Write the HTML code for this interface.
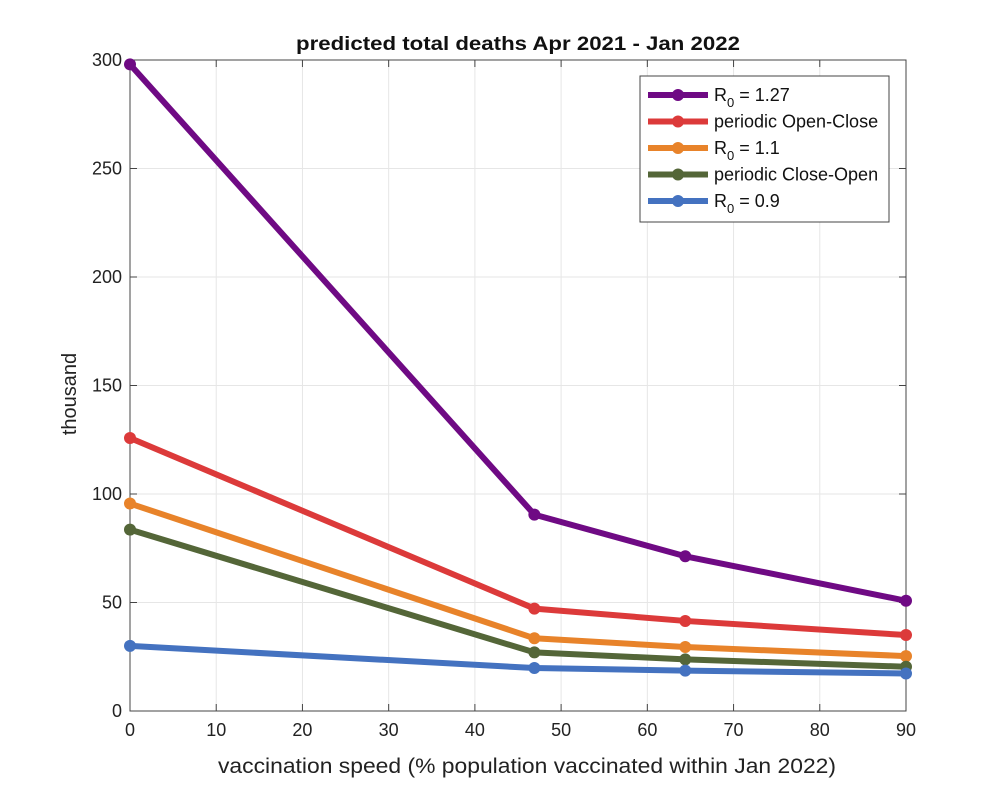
<!DOCTYPE html>
<html><head><meta charset="utf-8"><style>
body{margin:0;background:#fff;font-family:"Liberation Sans",sans-serif}
</style></head><body>
<svg id="chart" width="1000" height="800" xmlns="http://www.w3.org/2000/svg" font-family="Liberation Sans, sans-serif"></svg>
<script>
const xValues=[0,46.9,64.4,90];
const seriesNames=["R0 = 1.27","periodic Open-Close","R0 = 1.1","periodic Close-Open","R0 = 0.9"];
const sPurple=[298,90.5,71.3,50.8];
const sRed=[125.8,47.2,41.5,35];
const sOrange=[95.6,33.5,29.5,25.3];
const sGreen=[83.6,27,23.8,20.4];
const sBlue=[30,19.8,18.6,17.3];
const xTicks=[0,10,20,30,40,50,60,70,80,90];
const yTicks=[0,50,100,150,200,250,300];
const colors=["#6f0a84","#dc3a3a","#e8832a","#546638","#4472c0"];
const series=[sPurple,sRed,sOrange,sGreen,sBlue];
const L=130,R=906,T=60,B=711;
const X=v=>L+(v-0)/(90-0)*(R-L);
const Y=v=>B-(v-0)/(300-0)*(B-T);
const svg=document.getElementById('chart');
const NS="http://www.w3.org/2000/svg";
function el(t,a,p){const e=document.createElementNS(NS,t);for(const k in a)e.setAttribute(k,a[k]);(p||svg).appendChild(e);return e;}
const bg=el('rect',{x:L,y:T,width:R-L,height:B-T,fill:'#fff'});


xTicks.forEach(t=>{
 const g=el('line',{x1:X(t),x2:X(t),y1:T,y2:B,stroke:'#e6e6e6','stroke-width':1});
 
 
 el('line',{x1:X(t),x2:X(t),y1:B,y2:B-7,stroke:'#444'});
 el('line',{x1:X(t),x2:X(t),y1:T,y2:T+7,stroke:'#444'});
 const tx=el('text',{x:X(t),y:B+25,'text-anchor':'middle','font-size':18,fill:'#222'});tx.textContent=t;
 
 
});
yTicks.forEach(t=>{
 const g=el('line',{x1:L,x2:R,y1:Y(t),y2:Y(t),stroke:'#e6e6e6','stroke-width':1});
 
 
 el('line',{x1:L,x2:L+7,y1:Y(t),y2:Y(t),stroke:'#444'});
 el('line',{x1:R,x2:R-7,y1:Y(t),y2:Y(t),stroke:'#444'});
 const tx=el('text',{x:L-8,y:Y(t)+6,'text-anchor':'end','font-size':18,fill:'#222'});tx.textContent=t;
 
 
});
const frame=el('rect',{x:L,y:T,width:R-L,height:B-T,fill:'none',stroke:'#444','stroke-width':1});


series.forEach((s,i)=>{
 const pl=el('polyline',{points:s.map((v,j)=>X(xValues[j])+','+Y(v)).join(' '),fill:'none',stroke:colors[i],'stroke-width':6,'stroke-linejoin':'round'});
 
 
 s.forEach((v,j)=>{
  const c=el('circle',{cx:X(xValues[j]),cy:Y(v),r:6,fill:colors[i]});
  
  
 });
});
const lg=el('g',{});


el('rect',{x:640,y:76,width:249,height:146,fill:'#fff',stroke:'#444'},lg);
seriesNames.forEach((n,i)=>{
 const y=95+i*26.5;
 el('line',{x1:648,x2:708,y1:y,y2:y,stroke:colors[i],'stroke-width':6},lg);
 el('circle',{cx:678,cy:y,r:6,fill:colors[i]},lg);
 const t=el('text',{x:714,y:y+6,'font-size':18,fill:'#111'},lg);
 
 
 if(n.startsWith('R0')){t.innerHTML='R<tspan dy="6" font-size="13">0</tspan><tspan dy="-6"> '+n.slice(3)+'</tspan>';}
 else t.textContent=n;
});
const title=el('text',{x:518,y:50,'text-anchor':'middle','font-size':19,'font-weight':'bold',fill:'#111',textLength:444,lengthAdjust:'spacingAndGlyphs'});
title.textContent='predicted total deaths Apr 2021 - Jan 2022';


const xl=el('text',{x:527,y:773,'text-anchor':'middle','font-size':21,fill:'#222',textLength:618,lengthAdjust:'spacingAndGlyphs'});
xl.textContent='vaccination speed (% population vaccinated within Jan 2022)';


const yl=el('text',{x:76,y:394,'text-anchor':'middle','font-size':20,fill:'#222',transform:'rotate(-90 76 394)'});
yl.textContent='thousand';


</script>
</body></html>
